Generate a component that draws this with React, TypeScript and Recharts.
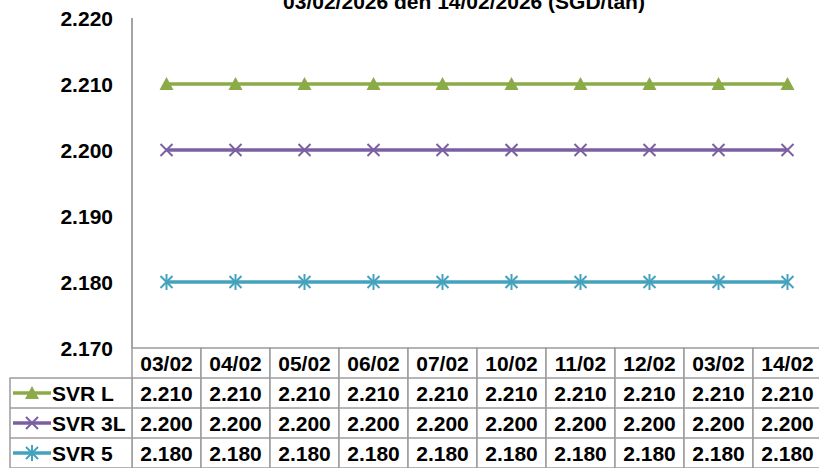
import React from "react";
import { LineChart, Line, XAxis, YAxis, Customized } from "recharts";

// Giá cao su SVR tại Singapore, 03/02 – 14/02
const dates = ["03/02", "04/02", "05/02", "06/02", "07/02", "10/02", "11/02", "12/02", "03/02", "14/02"];
const svrL = [2.21, 2.21, 2.21, 2.21, 2.21, 2.21, 2.21, 2.21, 2.21, 2.21];
const svr3L = [2.2, 2.2, 2.2, 2.2, 2.2, 2.2, 2.2, 2.2, 2.2, 2.2];
const svr5 = [2.18, 2.18, 2.18, 2.18, 2.18, 2.18, 2.18, 2.18, 2.18, 2.18];
const yTicks = [2.17, 2.18, 2.19, 2.2, 2.21, 2.22];
const title = "03/02/2026 đến 14/02/2026 (SGD/tấn)";

const SERIES = [
  { key: "svrL", name: "SVR L", values: svrL, color: "#8AAB48", marker: "triangle" },
  { key: "svr3L", name: "SVR 3L", values: svr3L, color: "#7B5FA3", marker: "cross" },
  { key: "svr5", name: "SVR 5", values: svr5, color: "#44A2BD", marker: "star" },
];

const data = dates.map((d, i) => ({
  idx: i,
  date: d,
  svrL: svrL[i],
  svr3L: svr3L[i],
  svr5: svr5[i],
}));

const FONT = "'Liberation Sans', Arial, sans-serif";
const GRID = "#9c9c9c";
const COL_W = 69;
const ROW_H = 30;
const LEGEND_W = 122;

function Marker({ type, cx, cy, color }: { type: string; cx: number; cy: number; color: string }) {
  if (type === "triangle") {
    return <polygon points={`${cx},${cy - 7} ${cx + 7},${cy + 6} ${cx - 7},${cy + 6}`} fill={color} />;
  }
  if (type === "cross") {
    return (
      <g stroke={color} strokeWidth={2}>
        <line x1={cx - 6} y1={cy - 6} x2={cx + 6} y2={cy + 6} />
        <line x1={cx - 6} y1={cy + 6} x2={cx + 6} y2={cy - 6} />
      </g>
    );
  }
  return (
    <g stroke={color} strokeWidth={2}>
      <line x1={cx - 6} y1={cy - 6} x2={cx + 6} y2={cy + 6} />
      <line x1={cx - 6} y1={cy + 6} x2={cx + 6} y2={cy - 6} />
      <line x1={cx} y1={cy - 8} x2={cx} y2={cy + 8} />
    </g>
  );
}

function makeDot(type: string, color: string) {
  return (props: any) => {
    const { cx, cy, index } = props;
    if (cx == null || cy == null) return <g key={`n-${index}`} />;
    return (
      <g key={`d-${type}-${index}`}>
        <Marker type={type} cx={cx} cy={cy} color={color} />
      </g>
    );
  };
}

// the data table under the plot, one column per category tick
function TableTick(props: any) {
  const { x = 0, y = 0, payload } = props;
  const i = Number(payload?.value ?? 0);
  const left = x - COL_W / 2;
  const txt = { fontFamily: FONT, fontSize: 21, fontWeight: 700, fill: "#000", textAnchor: "middle" as const };
  return (
    <g>
      <rect x={left} y={y} width={COL_W} height={ROW_H * 4} fill="#fff" stroke={GRID} strokeWidth={1.5} />
      {[1, 2, 3].map((r) => (
        <line key={r} x1={left} x2={left + COL_W} y1={y + r * ROW_H} y2={y + r * ROW_H} stroke={GRID} strokeWidth={1.5} />
      ))}
      <text {...txt} x={x} y={y + 23}>{dates[i]}</text>
      {SERIES.map((s, r) => (
        <text key={s.key} {...txt} x={x} y={y + (r + 1) * ROW_H + 23}>
          {s.values[i].toFixed(3)}
        </text>
      ))}
      {i === 0 && (
        <g>
          <rect x={left - LEGEND_W} y={y + ROW_H} width={LEGEND_W} height={ROW_H * 3} fill="#fff" stroke={GRID} strokeWidth={1.5} />
          {SERIES.map((s, r) => {
            const cy = y + (r + 1) * ROW_H + ROW_H / 2;
            return (
              <g key={s.key}>
                {r > 0 && (
                  <line x1={left - LEGEND_W} x2={left} y1={y + (r + 1) * ROW_H} y2={y + (r + 1) * ROW_H} stroke={GRID} strokeWidth={1.5} />
                )}
                <line x1={left - LEGEND_W + 3} x2={left - LEGEND_W + 41} y1={cy} y2={cy} stroke={s.color} strokeWidth={3.5} />
                <Marker type={s.marker} cx={left - LEGEND_W + 22} cy={cy} color={s.color} />
                <text x={left - LEGEND_W + 42} y={cy + 8} fontFamily={FONT} fontSize={21} fontWeight={700} fill="#000">
                  {s.name}
                </text>
              </g>
            );
          })}
        </g>
      )}
    </g>
  );
}

function Title() {
  return (
    <text x={464} y={9} textAnchor="middle" fontFamily={FONT} fontSize={21} fontWeight={700} fill="#000">
      {title}
    </text>
  );
}

export default function App() {
  return (
    <div style={{ position: "absolute", left: 0, top: 0, width: 819, height: 468, overflow: "hidden", background: "#fff" }}>
      <LineChart width={822} height={468} data={data} margin={{ top: 18, right: 0, bottom: 0, left: 0 }}>
        <XAxis
          dataKey="idx"
          type="category"
          padding={{ left: COL_W / 2, right: COL_W / 2 }}
          height={120}
          axisLine={false}
          tickLine={false}
          tickSize={0}
          tickMargin={0}
          interval={0}
          tick={(p: any) => <TableTick {...p} />}
        />
        <YAxis
          width={132}
          domain={[2.17, 2.22]}
          ticks={yTicks}
          interval={0}
          tickFormatter={(v: number) => v.toFixed(3)}
          axisLine={{ stroke: "#868686", strokeWidth: 1.5 }}
          tickLine={false}
          tickSize={0}
          tickMargin={19}
          tick={{ fontFamily: FONT, fontSize: 21, fontWeight: 700, fill: "#000", dy: 1 }}
        />
        {SERIES.map((s) => (
          <Line
            key={s.key}
            type="linear"
            dataKey={s.key}
            name={s.name}
            stroke={s.color}
            strokeWidth={3.5}
            dot={makeDot(s.marker, s.color)}
            activeDot={false}
            isAnimationActive={false}
          />
        ))}
        <Customized component={Title} />
      </LineChart>
    </div>
  );
}
